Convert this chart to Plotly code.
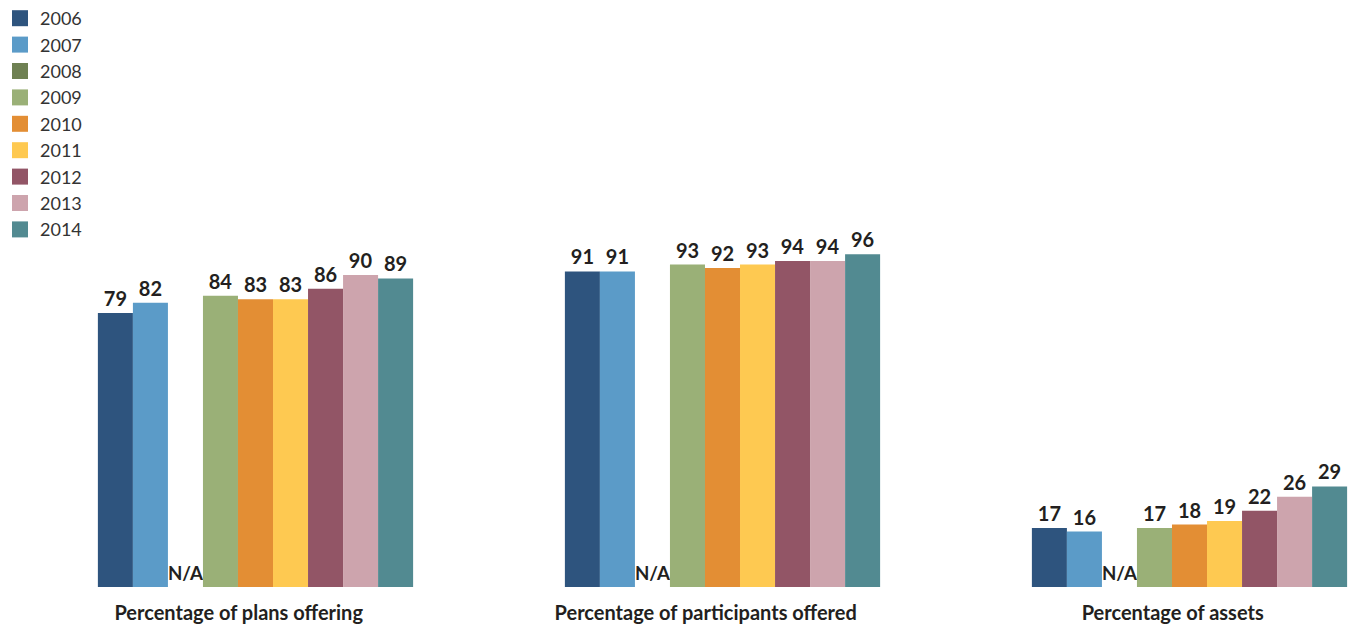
import plotly.graph_objects as go

# Survey measures shown as groups along the x axis
categories = ["Percentage of plans offering",
              "Percentage of participants offered",
              "Percentage of assets"]

years = ["2006", "2007", "2008", "2009", "2010", "2011", "2012", "2013", "2014"]

# Values per year for each category (None = not available)
values = {
    "2006": [79, 91, 17],
    "2007": [82, 91, 16],
    "2008": [None, None, None],
    "2009": [84, 93, 17],
    "2010": [83, 92, 18],
    "2011": [83, 93, 19],
    "2012": [86, 94, 22],
    "2013": [90, 94, 26],
    "2014": [89, 96, 29],
}

colors = {
    "2006": "#2E547E",
    "2007": "#5B9BC8",
    "2008": "#6E8052",
    "2009": "#9AB077",
    "2010": "#E38E34",
    "2011": "#FEC951",
    "2012": "#925566",
    "2013": "#CDA4AD",
    "2014": "#528A91",
}

na_label = "N/A"
text_color = "#231F20"

xpos = list(range(len(categories)))
# category captions sit half a bar slot left of the group centre
label_shift = -0.036

fig = go.Figure()

for yr in years:
    vals = values[yr]
    ys = [v if v is not None else 0 for v in vals]
    txt = [str(v) if v is not None else na_label for v in vals]
    fig.add_trace(go.Bar(
        x=xpos, y=ys, name=yr,
        marker=dict(color=colors[yr], line=dict(width=0)),
        text=txt, textposition="outside", cliponaxis=False,
        textfont=dict(family="Lato", size=20, color=text_color, weight="bold"),
        showlegend=False,
    ))
    # legend entry with a square swatch
    fig.add_trace(go.Scatter(
        x=[None], y=[None], mode="markers", name=yr,
        marker=dict(symbol="square", size=16, color=colors[yr]),
        showlegend=True,
    ))

fig.update_layout(
    width=1348, height=624,
    margin=dict(l=0, r=0, t=0, b=35),
    paper_bgcolor="white", plot_bgcolor="white",
    barmode="group", bargap=0.325, bargroupgap=0,
    legend=dict(x=0, y=1.0, xanchor="left", yanchor="top",
                font=dict(family="Lato", size=18, color="#333333"),
                itemwidth=30, tracegroupgap=0,
                bgcolor="rgba(0,0,0,0)"),
    xaxis=dict(range=[-0.5471, 2.3394],
               tickvals=[p + label_shift for p in xpos], ticktext=categories,
               showgrid=False, zeroline=False, showline=False, ticks="",
               ticklabelstandoff=12,
               tickfont=dict(family="Lato", size=20, color=text_color, weight="bold")),
    yaxis=dict(range=[0, 169.3], visible=False, showgrid=False, zeroline=False),
)

fig.write_html("out.html")
